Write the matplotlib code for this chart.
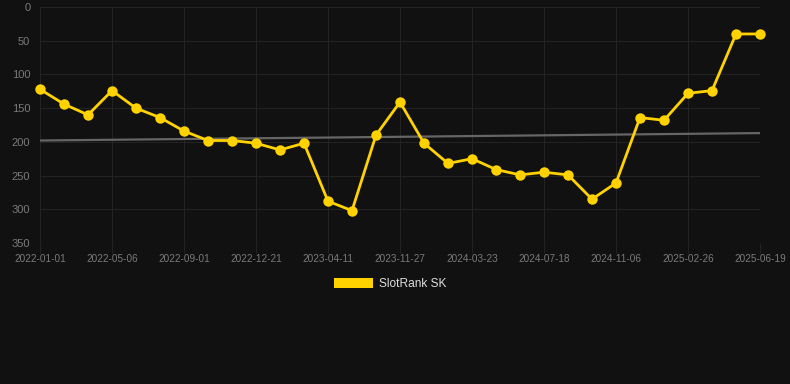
import matplotlib
matplotlib.use("Agg")
import matplotlib.pyplot as plt
from matplotlib.patches import Patch

plt.rcParams['font.family'] = ['Liberation Sans', 'DejaVu Sans']

dates = ["2022-01-01", "2022-02-12", "2022-03-25", "2022-05-06", "2022-06-14",
         "2022-07-23", "2022-09-01", "2022-10-09", "2022-11-15", "2022-12-21",
         "2023-01-27", "2023-03-05", "2023-04-11", "2023-06-30", "2023-09-15",
         "2023-11-27", "2024-01-04", "2024-02-13", "2024-03-23", "2024-05-01",
         "2024-06-09", "2024-07-18", "2024-08-26", "2024-09-30", "2024-11-06",
         "2024-12-13", "2025-01-20", "2025-02-26", "2025-04-05", "2025-05-12",
         "2025-06-19"]
ranks = [122, 144, 160, 124, 150, 164, 184, 198, 198, 202, 212, 202, 288, 302, 190,
         141, 202, 232, 225, 241, 249, 245, 249, 285, 261, 164, 168, 128, 124, 40, 40]
trend_ends = [198, 187]
yticks = [0, 50, 100, 150, 200, 250, 300, 350]

bg = '#111111'
fig = plt.figure(figsize=(7.9, 3.84), dpi=100, facecolor=bg)
ax = fig.add_axes([40/790, 1-243/384, 720/790, 236/384], facecolor=bg)

x = list(range(len(dates)))
ax.plot([x[0], x[-1]], trend_ends, color='#666666', lw=1.6, zorder=2)
ax.plot(x, ranks, color='#FFD200', lw=2.0, marker='o', markersize=7.5,
        markeredgewidth=0, zorder=3, clip_on=False)

ax.set_xlim(0, len(dates)-1)
ax.set_ylim(350, 0)
ax.set_yticks(yticks)
ax.set_yticklabels([str(v) for v in yticks])
tick_idx = x[::3]
ax.set_xticks(tick_idx)
ax.set_xticklabels([dates[i] for i in tick_idx])
ax.grid(True, color='#232323', lw=0.8)
for s in ax.spines.values():
    s.set_visible(False)
ax.tick_params(axis='x', colors='#232323', labelcolor='#7a7a7a', labelsize=7.2,
               length=7, width=0.8, pad=1)
ax.tick_params(axis='y', length=0, labelcolor='#7a7a7a', labelsize=8.0, pad=7)

handle = Patch(facecolor='#FFD200', edgecolor='none')
fig.legend([handle], ['SlotRank SK'], loc='center', bbox_to_anchor=(390/790, 1-284/384),
           frameon=False, labelcolor='#dddddd', fontsize=8.6,
           handlelength=3.3, handleheight=1.0, handletextpad=0.5)

fig.savefig('out.png', dpi=100, facecolor=bg)
